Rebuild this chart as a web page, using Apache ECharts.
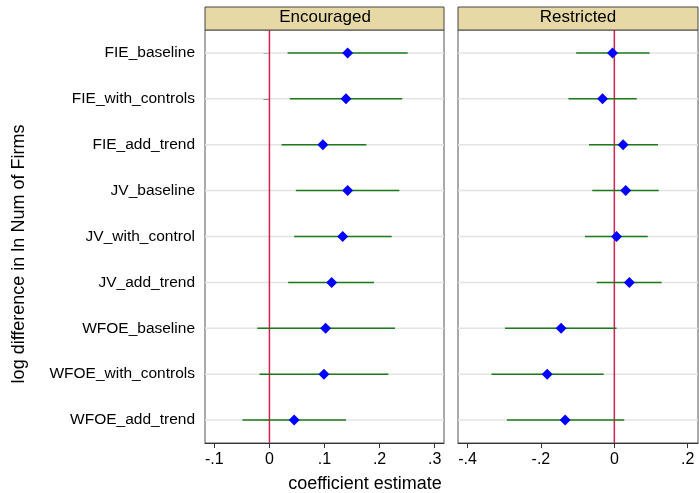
<!DOCTYPE html>
<html>
<head>
<meta charset="utf-8">
<script src="https://cdn.jsdelivr.net/npm/echarts@6/dist/echarts.min.js"></script>
<style>html,body{margin:0;padding:0;background:#fff;}#c{width:699px;height:493px;}</style>
</head>
<body>
<div id="c"></div>
<script>
const categories = ['FIE_baseline','FIE_with_controls','FIE_add_trend','JV_baseline','JV_with_control','JV_add_trend','WFOE_baseline','WFOE_with_controls','WFOE_add_trend'];
const panelTitles = ['Encouraged','Restricted'];
const encCoef = [0.142, 0.139, 0.097, 0.142, 0.133, 0.113, 0.102, 0.099, 0.045];
const encLo   = [0.033, 0.037, 0.022, 0.048, 0.045, 0.034, -0.022, -0.018, -0.049];
const encHi   = [0.251, 0.241, 0.176, 0.236, 0.222, 0.190, 0.228, 0.216, 0.139];
const resCoef = [-0.005, -0.032, 0.024, 0.031, 0.006, 0.041, -0.145, -0.183, -0.134];
const resLo   = [-0.104, -0.125, -0.069, -0.060, -0.080, -0.048, -0.298, -0.335, -0.293];
const resHi   = [0.096, 0.061, 0.119, 0.121, 0.091, 0.129, 0.006, -0.029, 0.027];
const encTicks = [-0.1, 0, 0.1, 0.2, 0.3];
const resTicks = [-0.4, -0.2, 0, 0.2];
const refLineX = 0;

const FONT = "'Liberation Sans', Arial, sans-serif";
const fmt = v => { const r = Math.round(v*10)/10; if (Math.abs(r) < 1e-9) return '0'; return (r<0?'-':'') + Math.abs(r).toFixed(1).replace(/^0/, ''); };

function makeX(idx, min, max, ticks) {
  return {
    type:'value', gridIndex: idx, min: min, max: max,
    axisLine:{show:true, onZero:false, lineStyle:{color:'#333', width:1}},
    axisTick:{show:true, length:5, customValues: ticks, lineStyle:{color:'#333'}},
    axisLabel:{customValues: ticks, formatter: fmt, fontSize:16, color:'#000', fontFamily: FONT, margin:9},
    splitLine:{show:false}
  };
}
function makeY(idx, showLabels) {
  return {
    type:'category', gridIndex: idx, data: categories, inverse: true,
    axisLine:{show:true, lineStyle:{color: showLabels ? '#222' : '#555', width:1}},
    axisTick:{show: showLabels, length:6, alignWithLabel:true, lineStyle:{color:'#333', width:1}},
    axisLabel:{show: showLabels, fontSize:15.5, color:'#000', fontFamily: FONT, margin:10},
    splitLine:{show:false}
  };
}
function seriesFor(idx, coef, lo, hi) {
  const rows = categories.map((c,i)=>[0,i]);
  return [
    { type:'custom', xAxisIndex:idx, yAxisIndex:idx, z:1, silent:true,
      data: rows,
      renderItem: (params, api) => {
        const y = api.coord([0, api.value(1)])[1];
        const cs = params.coordSys;
        return {type:'line', shape:{x1:cs.x, x2:cs.x+cs.width, y1:y, y2:y}, style:{stroke:'#e3e3e3', lineWidth:1.5}};
      }
    },
    { type:'custom', xAxisIndex:idx, yAxisIndex:idx, z:2, silent:true,
      data: [[refLineX, 0]],
      renderItem: (params, api) => {
        const x = api.coord([api.value(0), 0])[0];
        const cs = params.coordSys;
        return {type:'line', shape:{x1:x, x2:x, y1:cs.y, y2:cs.y+cs.height}, style:{stroke:'#d41f4f', lineWidth:1.5}};
      }
    },
    { type:'custom', xAxisIndex:idx, yAxisIndex:idx, z:3, silent:true,
      data: categories.map((c,i)=>[lo[i], hi[i], i]),
      renderItem: (params, api) => {
        const p1 = api.coord([api.value(0), api.value(2)]);
        const p2 = api.coord([api.value(1), api.value(2)]);
        return {type:'line', shape:{x1:p1[0], y1:p1[1], x2:p2[0], y2:p2[1]}, style:{stroke:'#1c7a1c', lineWidth:1.5}};
      }
    },
    { type:'scatter', xAxisIndex:idx, yAxisIndex:idx, z:4, symbol:'diamond', symbolSize:11,
      itemStyle:{color:'#0000ff', opacity:1}, data: categories.map((c,i)=>[coef[i], i]) }
  ];
}

const chart = echarts.init(document.getElementById('c'), null, {renderer:'canvas'});
chart.setOption({
  animation:false,
  backgroundColor:'#fff',
  grid:[
    {left:205, top:30, width:239, height:413, show:true, borderColor:'#555', borderWidth:1, containLabel:false},
    {left:458, top:30, width:240, height:413, show:true, borderColor:'#555', borderWidth:1, containLabel:false}
  ],
  xAxis:[ makeX(0, -0.117, 0.317, encTicks), makeX(1, -0.426, 0.228, resTicks) ],
  yAxis:[ makeY(0, true), makeY(1, false) ],
  series: [].concat(seriesFor(0, encCoef, encLo, encHi), seriesFor(1, resCoef, resLo, resHi)),
  graphic:[
    {type:'rect', shape:{x:205, y:7, width:239, height:23}, style:{fill:'#e6d9a6', stroke:'#444', lineWidth:1}, z:10},
    {type:'rect', shape:{x:458, y:7, width:240, height:23}, style:{fill:'#e6d9a6', stroke:'#444', lineWidth:1}, z:10},
    {type:'text', x:325, y:17, z:11, style:{text:panelTitles[0], font:'17px ' + FONT, fill:'#000', textAlign:'center', textVerticalAlign:'middle'}},
    {type:'text', x:578, y:17, z:11, style:{text:panelTitles[1], font:'17px ' + FONT, fill:'#000', textAlign:'center', textVerticalAlign:'middle'}},
    {type:'text', x:365, y:484, z:11, style:{text:'coefficient estimate', font:'18px ' + FONT, fill:'#000', textAlign:'center', textVerticalAlign:'middle'}},
    {type:'text', x:19, y:254, rotation:Math.PI/2, z:11, style:{text:'log difference in ln Num of Firms', font:'18px ' + FONT, fill:'#000', textAlign:'center', textVerticalAlign:'middle'}}
  ]
});
</script>
</body>
</html>
